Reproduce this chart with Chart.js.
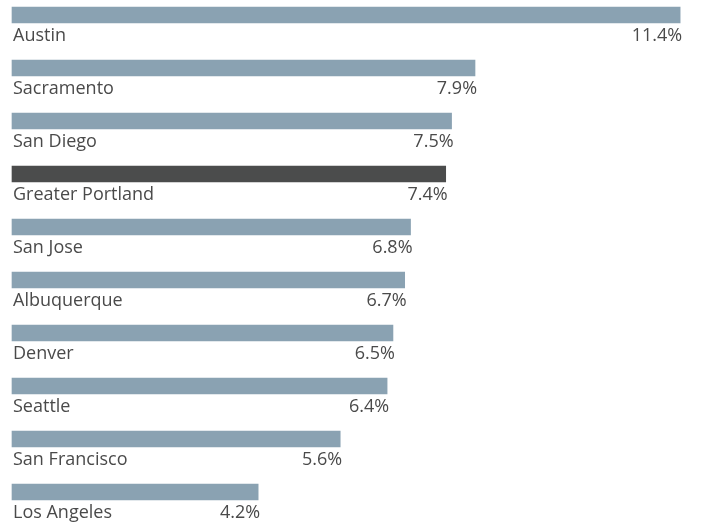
<!DOCTYPE html>
<html>
<head>
<meta charset="utf-8">
<script src="https://cdn.jsdelivr.net/npm/chart.js@4/dist/chart.umd.min.js"></script>
<style>
  html, body { margin: 0; padding: 0; background: #fff; }
  #wrap { position: relative; width: 701px; height: 522px; }
</style>
</head>
<body>
<div id="wrap"><canvas id="chart"></canvas></div>
<script>
// ── Data ──────────────────────────────────────────────────
const cities = ['Austin', 'Sacramento', 'San Diego', 'Greater Portland', 'San Jose',
                'Albuquerque', 'Denver', 'Seattle', 'San Francisco', 'Los Angeles'];
const growth = [11.4, 7.9, 7.5, 7.4, 6.8, 6.7, 6.5, 6.4, 5.6, 4.2];
const highlight = 'Greater Portland';

// ── Colours ───────────────────────────────────────────────
const BAR   = '#8aa2b2';
const HIGH  = '#4b4c4c';
const TEXT  = '#4a4a4a';
const FONT  = '500 18px "Open Sans", Roboto, sans-serif';

// draws city name under the bar start and value under the bar end
const barLabels = {
  id: 'barLabels',
  afterDatasetsDraw(chart) {
    const ctx = chart.ctx;
    const meta = chart.getDatasetMeta(0);
    ctx.save();
    ctx.font = FONT;
    ctx.fillStyle = TEXT;
    ctx.textBaseline = 'alphabetic';
    meta.data.forEach((bar, i) => {
      const bottom = bar.y + bar.height / 2;
      ctx.textAlign = 'left';
      ctx.fillText(cities[i], bar.base + 1, bottom + 18);
      ctx.textAlign = 'right';
      ctx.fillText(growth[i].toFixed(1) + '%', bar.x + 2, bottom + 18);
    });
    ctx.restore();
  }
};

new Chart(document.getElementById('chart'), {
  type: 'bar',
  data: {
    labels: cities,
    datasets: [{
      data: growth,
      backgroundColor: cities.map(c => c === highlight ? HIGH : BAR),
      barThickness: 16,
      borderWidth: 0,
      clip: false,
    }],
  },
  options: {
    indexAxis: 'y',
    responsive: true,
    maintainAspectRatio: false,
    animation: false,
    layout: { padding: { left: 12, right: 15, top: 15, bottom: 30 } },
    plugins: { legend: { display: false }, tooltip: { enabled: false } },
    scales: {
      x: { display: false, min: 0, max: 11.5 },
      y: { display: false, offset: false },
    },
  },
  plugins: [barLabels],
});
</script>
</body>
</html>
